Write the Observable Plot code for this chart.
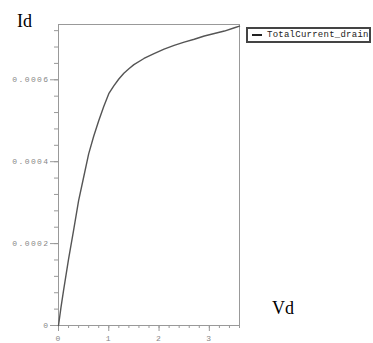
<!DOCTYPE html>
<html>
<head>
<meta charset="utf-8">
<script src="https://cdn.jsdelivr.net/npm/d3@7"></script>
<script src="https://cdn.jsdelivr.net/npm/@observablehq/plot@0.6"></script>
<style>
  html, body { margin: 0; padding: 0; background: #fff; }
  #wrap { position: relative; width: 373px; height: 343px; }
  #wrap svg g[aria-label="y-axis tick label"] text,
  #wrap svg g[aria-label="x-axis tick label"] text { letter-spacing: 1.4px; }
  .lbl { position: absolute; font-family: "Liberation Serif", serif; font-size: 18px; color: #000; line-height: 1; white-space: nowrap; }
  #legend { position: absolute; left: 246px; top: 27px; width: 121px; height: 12px; border: 2px solid #444; background: #fff; }
  #legend .sw { position: absolute; left: 4px; top: 5px; width: 10px; height: 2px; background: #222; }
  #legend .tx { position: absolute; left: 19px; top: 0px; font-family: "Liberation Mono", monospace; font-size: 9px; letter-spacing: 0.25px; line-height: 12px; color: #222; white-space: nowrap; }
</style>
</head>
<body>
<div id="wrap"></div>
<script>
const vd = [0, 0.05, 0.1, 0.2, 0.3, 0.4, 0.5, 0.6, 0.7, 0.8, 0.9, 1.0, 1.1, 1.2, 1.3, 1.4, 1.5, 1.7, 1.9, 2.1, 2.3, 2.5, 2.7, 2.9, 3.1, 3.3, 3.5, 3.6];
const id = [0, 0.000045, 0.000085, 0.000162, 0.000232, 0.000305, 0.000362, 0.000419, 0.000462, 0.000500, 0.000535, 0.000566, 0.000585, 0.000602, 0.000616, 0.000627, 0.000637, 0.000652, 0.000664, 0.000675, 0.000684, 0.000692, 0.000699, 0.000707, 0.000713, 0.000719, 0.000727, 0.000731];
const yMajor = [0, 0.0002, 0.0004, 0.0006];
const yMinor = d3.range(0, 0.000735, 0.00004);
const xMajor = [0, 1, 2, 3];
const xMinor = d3.range(0, 3.61, 0.2);
const seriesName = "TotalCurrent_drain";
const yTitle = "Id";
const xTitle = "Vd";

const data = vd.map((v, i) => ({vd: v, id: id[i]}));

const chart = Plot.plot({
  width: 373,
  height: 343,
  marginLeft: 58,
  marginRight: 134,
  marginTop: 24,
  marginBottom: 18,
  x: {domain: [0, 3.6], label: null},
  y: {domain: [0, 0.000735], label: null},
  style: {fontFamily: "'Liberation Mono', monospace", fontSize: "8px", color: "#888", background: "#fff"},
  marks: [
    Plot.axisY(yMinor, {tickSize: 4, text: null, stroke: "#999", label: null}),
    Plot.axisY(yMajor, {tickSize: 8, tickPadding: 1, stroke: "#999", fill: "#888", label: null,
      tickFormat: d => d === 0 ? "0" : d.toFixed(4)}),
    Plot.axisX(xMinor, {tickSize: 3, text: null, stroke: "#999", label: null}),
    Plot.axisX(xMajor, {tickSize: 6, tickPadding: 4, stroke: "#999", fill: "#888", label: null, tickFormat: d => String(d)}),
    Plot.frame({stroke: "#999"}),
    Plot.line(data, {x: "vd", y: "id", stroke: "#555", strokeWidth: 1.4})
  ]
});
const wrap = document.getElementById("wrap");
wrap.appendChild(chart);

const idLbl = document.createElement("div");
idLbl.className = "lbl";
idLbl.style.left = "17px";
idLbl.style.top = "12px";
idLbl.textContent = yTitle;
wrap.appendChild(idLbl);

const vdLbl = document.createElement("div");
vdLbl.className = "lbl";
vdLbl.style.left = "272px";
vdLbl.style.top = "299px";
vdLbl.textContent = xTitle;
wrap.appendChild(vdLbl);

const legend = document.createElement("div");
legend.id = "legend";
legend.innerHTML = '<div class="sw"></div><div class="tx"></div>';
legend.querySelector(".tx").textContent = seriesName;
wrap.appendChild(legend);
</script>
</body>
</html>
